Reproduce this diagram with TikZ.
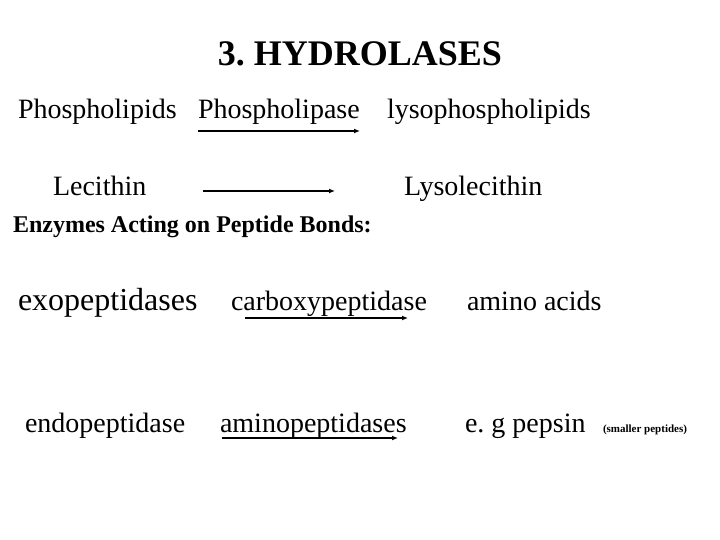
\documentclass[tikz,border=0pt]{standalone}
\usepackage{fontspec}
\setmainfont{Liberation Serif}
\usetikzlibrary{arrows.meta}
\tikzset{
  txt/.style={anchor=base west, inner sep=0pt, outer sep=0pt, font=\fontsize{28}{30}\selectfont},
  rx/.style={-{Latex[length=6pt,width=5pt]}, line width=1.6pt},
}
\begin{document}
\frenchspacing
\begin{tikzpicture}[x=1pt,y=-1pt]
\useasboundingbox[fill=white] (0,0) rectangle (720,540);
\node[anchor=base, inner sep=0pt, font=\fontsize{36}{40}\selectfont\bfseries] (title) at (360,66) {3. HYDROLASES};
\node[txt] (pl) at (18,119) {Phospholipids};
\node[txt] (pla) at (198,119) {Phospholipase};
\node[txt] (lpl) at (387,119) {lysophospholipids};
\coordinate (a1s) at (198,131); \coordinate (a1e) at (360,131);
\draw[rx] (a1s) -- (a1e);
\node[txt] (lec) at (53,196) {Lecithin};
\node[txt] (lys) at (404,196) {Lysolecithin};
\coordinate (a2s) at (203,191); \coordinate (a2e) at (335,191);
\draw[rx, line width=2pt] (a2s) -- (a2e);
\node[txt, font=\fontsize{24}{26}\selectfont\bfseries] (enz) at (13,233) {Enzymes Acting on Peptide Bonds:};
\node[txt, font=\fontsize{32}{34}\selectfont] (exo) at (18,310) {exopeptidases};
\node[txt] (cpd) at (231,310) {carboxypeptidase};
\node[txt] (aa) at (467,310) {amino acids};
\coordinate (a3s) at (245,318); \coordinate (a3e) at (408,318);
\draw[rx] (a3s) -- (a3e);
\node[txt] (endo) at (25,432) {endopeptidase};
\node[txt] (apd) at (220,432) {aminopeptidases};
\node[txt] (peps) at (465,432) {e. g pepsin};
\node[txt, font=\fontsize{11}{12}\selectfont\bfseries] (sp) at (603,432) {(smaller peptides)};
\coordinate (a4s) at (222,438); \coordinate (a4e) at (398,438);
\draw[rx] (a4s) -- (a4e);
\end{tikzpicture}
\end{document}
